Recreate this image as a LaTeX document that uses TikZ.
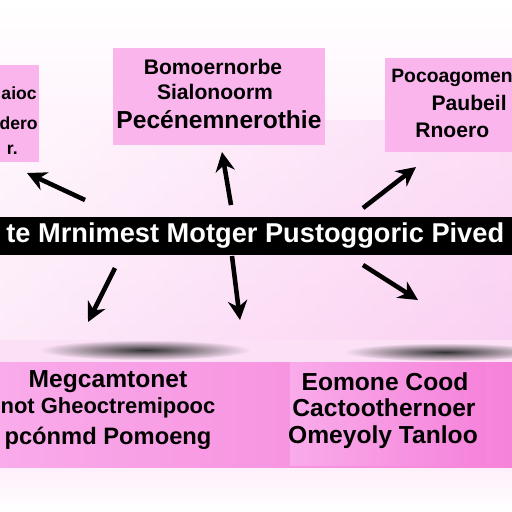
\documentclass[tikz,border=0pt]{standalone}
\usepackage{fontspec}
\setmainfont{Liberation Sans}
\usetikzlibrary{arrows.meta,fadings}

\definecolor{boxpink}{HTML}{F9B5EC}
\definecolor{bgpink}{HTML}{FCE0F6}
\definecolor{bandpink}{HTML}{F9ABEA}
\definecolor{deeppink}{HTML}{F683DA}
\definecolor{lightband}{HTML}{FCCBF3}

\tikzfading[name=fuzzyell, inner color=transparent!0, outer color=transparent!100]

\tikzset{
  lbl/.style={font=\bfseries\fontsize{12}{14}\selectfont, inner sep=0pt},
  smlbl/.style={font=\bfseries\fontsize{10}{12}\selectfont, inner sep=0pt},
  biglbl/.style={font=\bfseries\fontsize{14}{16}\selectfont, inner sep=0pt},
  arr/.style={line width=2.6pt, -{Stealth[length=11pt,width=11pt]}},
}

\begin{document}
\begin{tikzpicture}[x=0.02cm,y=-0.02cm]
\useasboundingbox (0,0) rectangle (512,512);
\begin{scope}
\clip (0,0) rectangle (512,512);

% background
\shade[top color=white, bottom color=bgpink] (0,0) rectangle (512,340);
\shade[left color=white, right color=boxpink, opacity=0.35] (0,120) rectangle (512,340);
\fill[bgpink] (0,340) rectangle (512,362);
\shade[left color=bandpink, middle color=lightband, right color=deeppink] (0,362) rectangle (512,468);
\shade[top color=bgpink!50, bottom color=white] (0,468) rectangle (512,512);

% shadows
\fill[black!80, path fading=fuzzyell] (145,350) ellipse (105 and 10);
\fill[black!80, path fading=fuzzyell] (445,352) ellipse (100 and 9);

% boxes
\fill[boxpink] (-10,65) rectangle (39,162);
\fill[boxpink] (113,48) rectangle (325,145);
\fill[boxpink] (385,58) rectangle (522,152);
\shade[left color=bandpink, right color=deeppink] (290,362) rectangle (485,465);

% top left
\node[smlbl, anchor=east] (tl1) at (37,93) {aioc};
\node[smlbl, anchor=east] (tl2) at (38,123) {dero};
\node[smlbl, anchor=east] (tl3) at (18,150) {r.};

% top centre
\node[lbl] (tc1) at (213,67) {Bomoernorbe};
\node[lbl] (tc2) at (215,92) {Sialonoorm};
\node[biglbl] (tc3) at (219,120) {Pecénemnerothie};

% top right
\node[lbl, font=\bfseries\fontsize{11}{13}\selectfont, anchor=west] (tr1) at (391,78) {Pocoagomen};
\node[lbl, anchor=east] (tr2) at (507,103) {Paubeil};
\node[lbl, anchor=west] (tr3) at (415,130) {Rnoero};

% band
\fill[black] (0,217) rectangle (512,255);
\node[white, font=\bfseries\fontsize{15.5}{18}\selectfont, inner sep=0pt, anchor=west] (title) at (6,236) {te Mrnimest Motger Pustoggoric Pived};

% bottom left
\node[biglbl] (bl1) at (108,382) {Megcamtonet};
\node[biglbl, font=\bfseries\fontsize{12.5}{15}\selectfont] (bl2) at (108,408) {not Gheoctremipooc};
\node[biglbl, font=\bfseries\fontsize{13.5}{15}\selectfont] (bl3) at (108,438) {pcónmd Pomoeng};

% bottom right
\node[biglbl] (br1) at (385,382) {Eomone Cood};
\node[biglbl] (br2) at (384,408) {Cactoothernoer};
\node[biglbl] (br3) at (383,437) {Omeyoly Tanloo};

% arrows
\foreach \n/\a/\b/\c/\d in {tl/85/200/27/173, tc/231/205/222/152, tr/363/208/416/167,
                            bl/115/268/88/322, bc/232/256/240/320, br/363/265/418/300}{
  \coordinate (\n s) at (\a,\b);
  \coordinate (\n e) at (\c,\d);
  \draw[arr] (\n s) -- (\n e);
}
\end{scope}
\end{tikzpicture}
\end{document}
